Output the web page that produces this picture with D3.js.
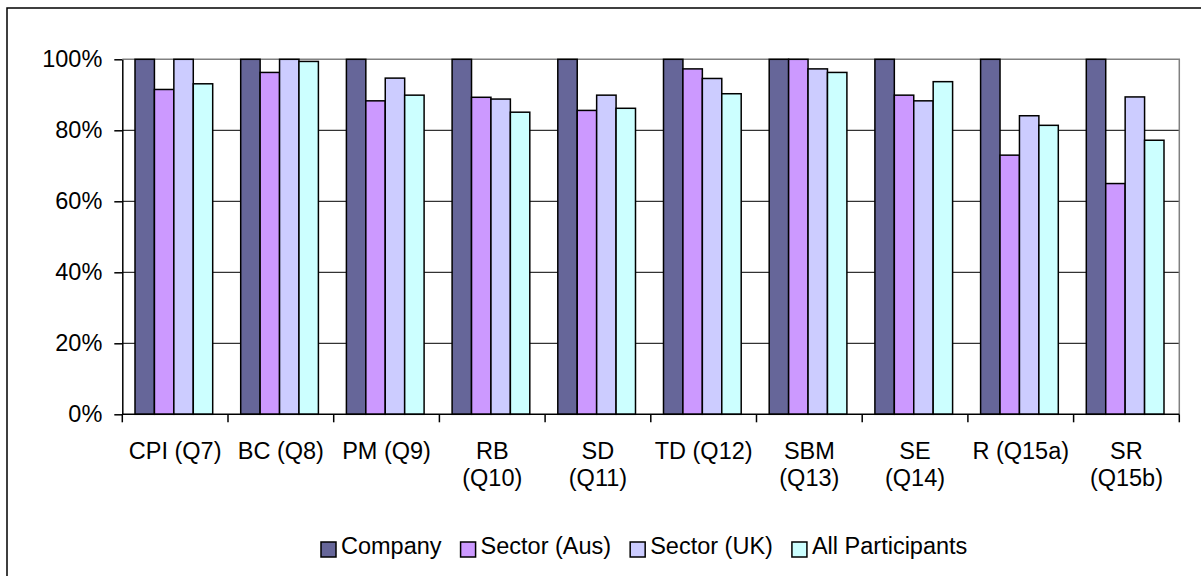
<!DOCTYPE html>
<html>
<head>
<meta charset="utf-8">
<script src="https://cdn.jsdelivr.net/npm/d3@7/dist/d3.min.js"></script>
<style>
  html, body { margin: 0; padding: 0; background: #fff; }
  svg { display: block; }
  text { font-family: "Liberation Sans", Arial, sans-serif; fill: #000; }
</style>
</head>
<body>
<svg id="chart" width="1201" height="576"></svg>
<script>
// Category labels (line breaks as shown under the axis)
const categories = ["CPI (Q7)", "BC (Q8)", "PM (Q9)", "RB\n(Q10)", "SD\n(Q11)",
                    "TD (Q12)", "SBM\n(Q13)", "SE\n(Q14)", "R (Q15a)", "SR\n(Q15b)"];

// Series values, percent
const company      = [100, 100, 100, 100, 100, 100, 100, 100, 100, 100];
const sectorAus    = [91.5, 96.3, 88.3, 89.3, 85.6, 97.3, 100, 89.9, 73.0, 65.0];
const sectorUK     = [100, 100, 94.7, 88.8, 89.9, 94.6, 97.3, 88.3, 84.1, 89.4];
const allParticip  = [93.1, 99.4, 89.9, 85.1, 86.2, 90.3, 96.3, 93.7, 81.4, 77.2];

const seriesNames  = ["Company", "Sector (Aus)", "Sector (UK)", "All Participants"];
const seriesColors = ["#666699", "#CC99FF", "#CCCCFF", "#CCFFFF"];
const yTicks       = [0, 20, 40, 60, 80, 100];

const seriesValues = [company, sectorAus, sectorUK, allParticip];
const rows = categories.map((c, i) => ({
  cat: c,
  vals: seriesNames.map((s, j) => ({ key: s, value: seriesValues[j][i], color: seriesColors[j] }))
}));

const svg = d3.select("#chart");
const FONT = 23.5;

// Outer chart frame
svg.append("rect")
  .attr("x", 7).attr("y", 8).attr("width", 1210).attr("height", 600)
  .attr("fill", "none").attr("stroke", "#000").attr("stroke-width", 1.5);

const plot = { left: 122.3, right: 1179.3, top: 59.3, bottom: 414.3 };

const x0 = d3.scaleBand().domain(categories).range([plot.left, plot.right]).padding(0);
const bw = x0.bandwidth();
const x1 = d3.scaleBand().domain(seriesNames).range([12.7, bw - 15.3]).padding(0);
const y = d3.scaleLinear().domain([0, 100]).range([plot.bottom, plot.top]);

// Gridlines
svg.append("g")
  .selectAll("line")
  .data(yTicks.filter(t => t > 0 && t < 100))
  .join("line")
  .attr("x1", plot.left).attr("x2", plot.right)
  .attr("y1", d => y(d)).attr("y2", d => y(d))
  .attr("stroke", "#000").attr("stroke-width", 1);

// Plot area border (top and right)
svg.append("path")
  .attr("d", `M${plot.left},${plot.top}H${plot.right}V${plot.bottom}`)
  .attr("fill", "none").attr("stroke", "#808080").attr("stroke-width", 1.5);

// Bars
const groups = svg.append("g").selectAll("g")
  .data(rows).join("g")
  .attr("transform", d => `translate(${x0(d.cat)},0)`);

groups.selectAll("rect")
  .data(d => d.vals).join("rect")
  .attr("x", d => x1(d.key))
  .attr("width", x1.bandwidth())
  .attr("y", d => y(d.value))
  .attr("height", d => y(0) - y(d.value))
  .attr("fill", d => d.color)
  .attr("stroke", "#000").attr("stroke-width", 1.5);

// Y axis
const yAxis = svg.append("g")
  .attr("transform", `translate(${plot.left},0)`)
  .call(d3.axisLeft(y).tickValues(yTicks).tickFormat(d => d + "%").tickSizeInner(8).tickSizeOuter(0).tickPadding(12));
yAxis.select(".domain").attr("stroke", "#000").attr("stroke-width", 1.5);
yAxis.selectAll(".tick line").attr("stroke", "#000").attr("stroke-width", 1.5);
yAxis.selectAll(".tick text")
  .attr("font-size", FONT).attr("font-family", "Liberation Sans, Arial, sans-serif")
  .attr("fill", "#000");

// X axis line and category boundary ticks
svg.append("line")
  .attr("x1", plot.left).attr("x2", plot.right)
  .attr("y1", plot.bottom).attr("y2", plot.bottom)
  .attr("stroke", "#000").attr("stroke-width", 1.5);

const boundaries = categories.map(c => x0(c)).concat([x0(categories[categories.length - 1]) + bw]);
svg.append("g").selectAll("line")
  .data(boundaries).join("line")
  .attr("x1", d => d).attr("x2", d => d)
  .attr("y1", plot.bottom).attr("y2", plot.bottom + 8)
  .attr("stroke", "#000").attr("stroke-width", 1.5);

// Category labels
const catText = svg.append("g").selectAll("text")
  .data(categories).join("text")
  .attr("x", d => x0(d) + bw / 2)
  .attr("y", 458.5)
  .attr("text-anchor", "middle")
  .attr("font-size", FONT);
catText.selectAll("tspan")
  .data(d => d.split("\n").map(line => ({ line, x: x0(d) + bw / 2 })))
  .join("tspan")
  .attr("x", d => d.x)
  .attr("dy", (d, i) => i === 0 ? 0 : 27)
  .text(d => d.line);

// Legend
const legend = svg.append("g");
let lx = 321;
seriesNames.forEach((name, i) => {
  legend.append("rect")
    .attr("x", lx).attr("y", 542).attr("width", 15).attr("height", 15)
    .attr("fill", seriesColors[i]).attr("stroke", "#000").attr("stroke-width", 1.5);
  const t = legend.append("text")
    .attr("x", lx + 20).attr("y", 553.5)
    .attr("font-size", FONT)
    .text(name);
  lx = lx + 20 + t.node().getComputedTextLength() + 19;
});
</script>
</body>
</html>
